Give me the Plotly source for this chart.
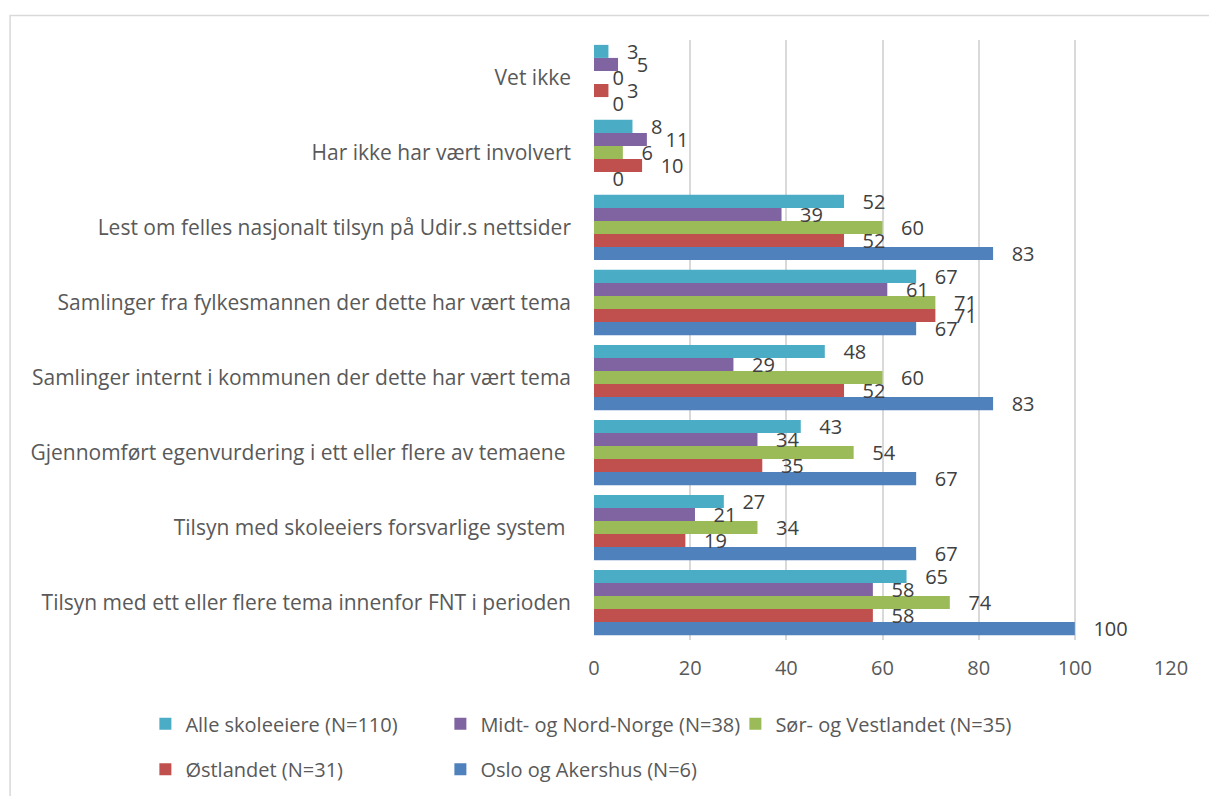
import plotly.graph_objects as go

categories = [
    "Tilsyn med ett eller flere tema innenfor FNT i perioden",
    "Tilsyn med skoleeiers forsvarlige system ",
    "Gjennomført egenvurdering i ett eller flere av temaene ",
    "Samlinger internt i kommunen der dette har vært tema",
    "Samlinger fra fylkesmannen der dette har vært tema",
    "Lest om felles nasjonalt tilsyn på Udir.s nettsider",
    "Har ikke har vært involvert",
    "Vet ikke",
]

alle = [65, 27, 43, 48, 67, 52, 8, 3]
midt = [58, 21, 34, 29, 61, 39, 11, 5]
sor = [74, 34, 54, 60, 71, 60, 6, 0]
ost = [58, 19, 35, 52, 71, 52, 10, 3]
oslo = [100, 67, 67, 83, 67, 83, 0, 0]

series_names = [
    "Alle skoleeiere (N=110)",
    "Midt- og Nord-Norge (N=38)",
    "Sør- og Vestlandet (N=35)",
    "Østlandet (N=31)",
    "Oslo og Akershus (N=6)",
]
series_values = [alle, midt, sor, ost, oslo]
colors = ["#4BACC6", "#8064A2", "#9BBB59", "#C0504D", "#4F81BD"]
legend_ids = ["legend", "legend", "legend", "legend2", "legend2"]

FONT = "Open Sans"
TXT = "#595959"

fig = go.Figure()
# add in reverse so that "Alle" is on top within each group
for i in reversed(range(5)):
    fig.add_trace(go.Bar(
        y=categories,
        x=series_values[i],
        name=series_names[i],
        orientation="h",
        marker=dict(color=colors[i], line=dict(width=0)),
        text=series_values[i],
        texttemplate="   %{x}",
        textposition="outside",
        textfont=dict(family=FONT, size=20, color="#404040"),
        constraintext="none",
        cliponaxis=False,
        legend=legend_ids[i],
        legendrank=i,
    ))

# chart border
fig.add_shape(type="rect", xref="paper", yref="paper",
              x0=-1.012, x1=1.07, y0=-0.27, y1=1.0408,
              line=dict(color="#D9D9D9", width=1.5), fillcolor="rgba(0,0,0,0)", layer="below")

fig.update_layout(
    width=1209, height=796,
    margin=dict(l=594, r=38, t=40, b=156, autoexpand=False),
    paper_bgcolor="white", plot_bgcolor="white",
    barmode="group", bargap=0.13, bargroupgap=0,
    font=dict(family=FONT, size=21, color=TXT),
    showlegend=True,
    legend=dict(orientation="h", x=-0.7775, xanchor="left", y=-0.107, yanchor="top",
                entrywidth=250, entrywidthmode="pixels",
                font=dict(family=FONT, size=20, color=TXT), traceorder="normal"),
    legend2=dict(orientation="h", x=-0.7775, xanchor="left", y=-0.183, yanchor="top",
                 entrywidth=250, entrywidthmode="pixels",
                 font=dict(family=FONT, size=20, color=TXT), traceorder="normal"),
    xaxis=dict(range=[0, 120], dtick=20, showgrid=True, gridcolor="#D9D9D9", gridwidth=1.5,
               zeroline=False, showline=False, ticks="", automargin=False,
               tickfont=dict(family=FONT, size=20, color=TXT), ticklabelstandoff=14),
    yaxis=dict(categoryorder="array", categoryarray=categories, showgrid=False,
               zeroline=False, showline=False, ticks="", automargin=False,
               tickfont=dict(family=FONT, size=21, color=TXT), ticklabelstandoff=22),
)

fig.write_html("out.html", config={"displayModeBar": False},
               post_script="document.body.style.margin='0';document.body.style.padding='0';")
